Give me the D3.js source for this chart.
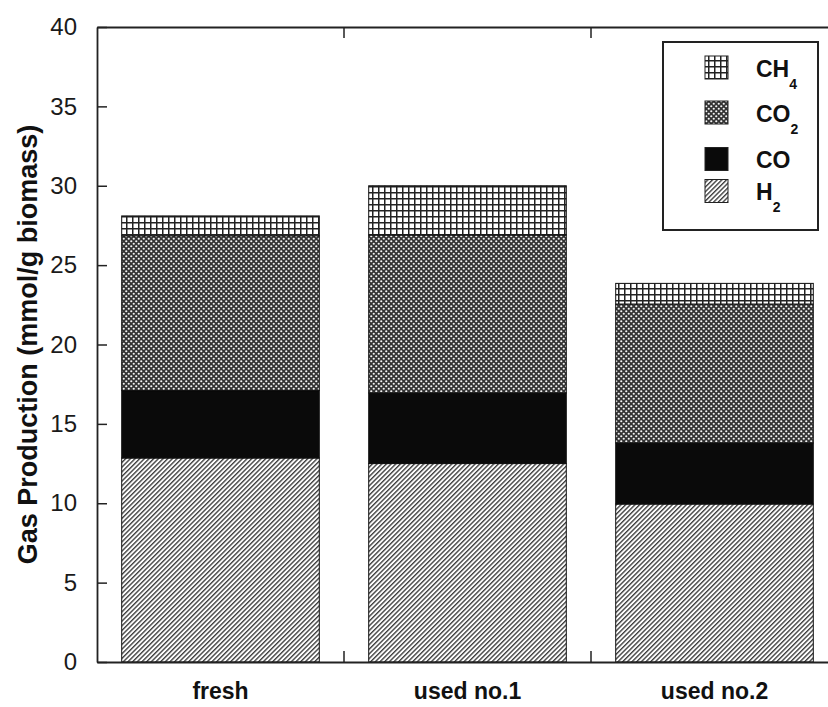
<!DOCTYPE html>
<html>
<head>
<meta charset="utf-8">
<script src="https://cdn.jsdelivr.net/npm/d3@7"></script>
<style>
html,body{margin:0;padding:0;background:#fff;}
svg{display:block;}
</style>
</head>
<body>
<svg id="chart" width="828" height="707"></svg>
<script>
// ---- data ----
const categories = ["fresh", "used no.1", "used no.2"];
const seriesNames = ["H2", "CO", "CO2", "CH4"];
const H2  = [12.85, 12.5, 9.95];
const CO  = [4.25, 4.45, 3.85];
const CO2 = [9.75, 9.95, 8.75];
const CH4 = [1.25, 3.1, 1.3];
const yTicks = [0, 5, 10, 15, 20, 25, 30, 35, 40];
const yTitle = "Gas Production (mmol/g biomass)";

const svg = d3.select("#chart");
const margin = {left: 97, top: 27, right: 838, bottom: 662};
const FONT = "Liberation Sans, Arial, Helvetica, sans-serif";

const x = d3.scaleBand().domain(categories)
  .range([margin.left, margin.right]).paddingInner(0.2).paddingOuter(0.1);
const y = d3.scaleLinear().domain([0, 40]).range([margin.bottom, margin.top]);

// ---- patterns ----
const defs = svg.append("defs");
const pH2 = defs.append("pattern").attr("id", "pH2").attr("patternUnits", "userSpaceOnUse")
  .attr("width", 3.3).attr("height", 10).attr("patternTransform", "rotate(45)");
pH2.append("rect").attr("width", 3.3).attr("height", 10).attr("fill", "#fff");
pH2.append("line").attr("x1", 0.7).attr("x2", 0.7).attr("y1", 0).attr("y2", 10)
  .attr("stroke", "#333").attr("stroke-width", 1.3);

const pCO2 = defs.append("pattern").attr("id", "pCO2").attr("patternUnits", "userSpaceOnUse")
  .attr("width", 5).attr("height", 5);
pCO2.append("rect").attr("width", 5).attr("height", 5).attr("fill", "#333");
pCO2.append("circle").attr("cx", 1.25).attr("cy", 1.25).attr("r", 1.1).attr("fill", "#f4f4f4");
pCO2.append("circle").attr("cx", 3.75).attr("cy", 3.75).attr("r", 1.1).attr("fill", "#f4f4f4");

const pCH4 = defs.append("pattern").attr("id", "pCH4").attr("patternUnits", "userSpaceOnUse")
  .attr("width", 6).attr("height", 6);
pCH4.append("rect").attr("width", 6).attr("height", 6).attr("fill", "#fff");
pCH4.append("path").attr("d", "M0.75,0V6M0,0.75H6").attr("stroke", "#222").attr("stroke-width", 1.5);

const fills = {H2: "url(#pH2)", CO: "#0a0a0a", CO2: "url(#pCO2)", CH4: "url(#pCH4)"};

// ---- stacked bars ----
const table = categories.map((c, i) => ({cat: c, H2: H2[i], CO: CO[i], CO2: CO2[i], CH4: CH4[i]}));
const stack = d3.stack().keys(seriesNames)(table);

svg.append("g").selectAll("g").data(stack).join("g")
  .attr("fill", d => fills[d.key])
  .selectAll("rect").data(d => d).join("rect")
  .attr("x", d => x(d.data.cat))
  .attr("width", x.bandwidth())
  .attr("y", d => y(d[1]))
  .attr("height", d => y(d[0]) - y(d[1]))
  .attr("stroke", "#111").attr("stroke-width", 1);

// ---- axes / frame ----
const axisColor = "#222";
const yAxis = svg.append("g").attr("transform", `translate(${margin.left},0)`)
  .call(d3.axisLeft(y).tickValues(yTicks).tickSizeInner(-10).tickSizeOuter(0).tickPadding(20));
const yAxisR = svg.append("g").attr("transform", `translate(${margin.right},0)`)
  .call(d3.axisRight(y).tickValues(yTicks).tickSizeInner(-10).tickSizeOuter(0).tickFormat(""));
const xAxis = svg.append("g").attr("transform", `translate(0,${margin.bottom})`)
  .call(d3.axisBottom(x).tickSize(0).tickPadding(0));
const xAxisT = svg.append("g").attr("transform", `translate(0,${margin.top})`)
  .call(d3.axisTop(x).tickSize(0).tickFormat(""));

// category separator ticks (between bands) bottom and top
const sepX = categories.slice(1).map(c => x(c) - x.step() * x.paddingInner() / 2);
svg.append("g").selectAll("line").data(sepX).join("line")
  .attr("x1", d => d).attr("x2", d => d)
  .attr("y1", margin.bottom).attr("y2", margin.bottom - 11)
  .attr("stroke", axisColor).attr("stroke-width", 1.5);
svg.append("g").selectAll("line").data(sepX).join("line")
  .attr("x1", d => d).attr("x2", d => d)
  .attr("y1", margin.top).attr("y2", margin.top + 11)
  .attr("stroke", axisColor).attr("stroke-width", 1.5);

[yAxis, yAxisR, xAxis, xAxisT].forEach(g => {
  g.select(".domain").attr("stroke", axisColor).attr("stroke-width", 1.8);
  g.selectAll(".tick line").attr("stroke", axisColor).attr("stroke-width", 1.5);
});
yAxis.selectAll(".tick text")
  .attr("font-family", FONT)
  .attr("font-size", 24).attr("fill", "#1a1a1a");
xAxis.selectAll(".tick text")
  .attr("font-family", FONT).attr("dy", null).attr("y", 37)
  .attr("font-size", 23).attr("font-weight", "bold").attr("fill", "#111");

// y title
svg.append("text")
  .attr("transform", `translate(37,${(margin.top + margin.bottom) / 2}) rotate(-90)`)
  .attr("text-anchor", "middle")
  .attr("font-family", FONT)
  .attr("font-size", 27).attr("font-weight", "bold").attr("fill", "#111")
  .text(yTitle);

// ---- legend ----
const legendOrder = ["CH4", "CO2", "CO", "H2"];
const legendLabels = {CH4: ["CH", "4"], CO2: ["CO", "2"], CO: ["CO", ""], H2: ["H", "2"]};
const legendRowY = [67.5, 112.5, 159, 191];
const lg = svg.append("g");
lg.append("rect").attr("x", 663).attr("y", 42).attr("width", 155).attr("height", 188)
  .attr("fill", "#fff").attr("stroke", "#222").attr("stroke-width", 2);
legendOrder.forEach((k, i) => {
  const cy = legendRowY[i];
  lg.append("rect").attr("x", 705).attr("y", cy - 11.5).attr("width", 23).attr("height", 23)
    .attr("fill", fills[k]).attr("stroke", "#222").attr("stroke-width", 1);
  const t = lg.append("text").attr("x", 756).attr("y", cy + 9)
    .attr("font-family", FONT)
    .attr("font-size", 23).attr("font-weight", "bold").attr("fill", "#111");
  t.append("tspan").text(legendLabels[k][0]);
  if (legendLabels[k][1]) {
    t.append("tspan").attr("dy", 12).attr("font-size", 14).text(legendLabels[k][1]);
  }
});
</script>
</body>
</html>
